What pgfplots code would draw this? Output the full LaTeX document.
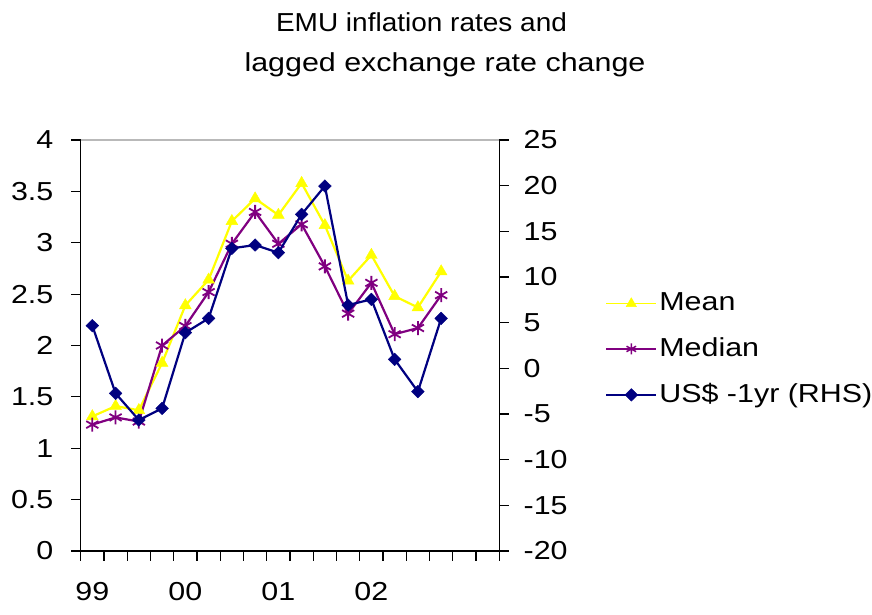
\documentclass[border=0pt]{standalone}
\usepackage{pgfplots}
\pgfplotsset{compat=1.18}
\usepackage{fontspec}
\setmainfont{Liberation Sans}[FakeStretch=1.17]
\definecolor{meanc}{RGB}{255,255,0}
\definecolor{medc}{RGB}{128,0,128}
\definecolor{usc}{RGB}{0,0,128}
\pgfplotsset{
  common/.style={
    at={(80.7pt,63pt)}, anchor=south west, scale only axis,
    width=418.6pt, height=411pt,
    xmin=-0.5, xmax=17.5,
    tick align=outside,
    major tick length=9.5pt,
    axis line style={-, black, line width=1.2pt},
    every tick/.style={black, line width=1.2pt},
    /pgf/number format/assume math mode=true,
    tick label style={font=\fontsize{26}{31}\selectfont},
    clip=false,
  },
}
\begin{document}%
\fontsize{26}{31}\selectfont%
\begin{tikzpicture}
\useasboundingbox (0,0) rectangle (872pt,614pt);
\node[anchor=base] at (421.5pt,582pt) {\scalebox{0.92}[1]{EMU inflation rates and}};
\node[anchor=base] at (445pt,542.5pt) {lagged exchange rate change};
\begin{axis}[common,
  ymin=0, ymax=4,
  axis x line*=bottom, axis y line*=left,
  ytick={0,0.5,1,1.5,2,2.5,3,3.5,4},
  yticklabel style={xshift=-9pt},
  xtick={-0.5,0.5,...,17.5},
  xticklabel=\empty,
  extra x ticks={0,4,8,12},
  extra x tick labels={99,00,01,02},
  extra x tick style={major tick length=0pt, xticklabel style={yshift=-22pt}},
]
\draw[gray!55, line width=1.2pt] (rel axis cs:0,1) -- (rel axis cs:1,1);
\addplot[meanc, line width=2.2pt, mark=triangle*, mark size=6.8pt, mark options={solid, fill=meanc, line width=0.4pt}]
coordinates {(0,1.31)(1,1.41)(2,1.37)(3,1.83)(4,2.39)(5,2.64)(6,3.21)(7,3.43)(8,3.27)(9,3.58)(10,3.17)(11,2.63)(12,2.88)(13,2.48)(14,2.37)(15,2.72)};
\addplot[medc, line width=2.2pt, mark=asterisk, mark size=7pt, mark options={solid, line width=1.8pt}]
coordinates {(0,1.23)(1,1.30)(2,1.26)(3,2.00)(4,2.19)(5,2.52)(6,2.99)(7,3.30)(8,2.99)(9,3.18)(10,2.77)(11,2.31)(12,2.61)(13,2.11)(14,2.17)(15,2.49)};
\end{axis}
\begin{axis}[common,
  ymin=-20, ymax=25,
  axis x line=none, axis y line*=right,
  ytick={-20,-15,...,25},
  yticklabel style={xshift=6pt},
  legend style={at={(1.2525,0.49)}, anchor=west, draw=none, fill=none,
    font=\fontsize{26}{31}\selectfont, row sep=19pt, inner sep=0pt,
    cells={anchor=west}},
  legend image code/.code={
    \draw[mark repeat=2, mark phase=2] plot coordinates {(0pt,0pt) (25pt,0pt) (50pt,0pt)};
  },
]
\addlegendimage{meanc, line width=1.2pt, mark=triangle*, mark size=6pt, mark options={solid, fill=meanc, line width=0.4pt}}
\addlegendentry{Mean}
\addlegendimage{medc, line width=1.2pt, mark=asterisk, mark size=5.5pt, mark options={solid, line width=1.5pt}}
\addlegendentry{Median}
\addplot[usc, line width=2.2pt, mark=diamond*, mark size=6.3pt, mark options={solid, fill=usc, xscale=1.35, line width=0.4pt}]
coordinates {(0,4.67)(1,-2.74)(2,-5.66)(3,-4.38)(4,3.9)(5,5.47)(6,13.14)(7,13.5)(8,12.66)(9,16.86)(10,19.96)(11,6.93)(12,7.55)(13,0.98)(14,-2.55)(15,5.47)};
\addlegendentry{US\$ -1yr (RHS)}
\end{axis}
\end{tikzpicture}%
\end{document}
